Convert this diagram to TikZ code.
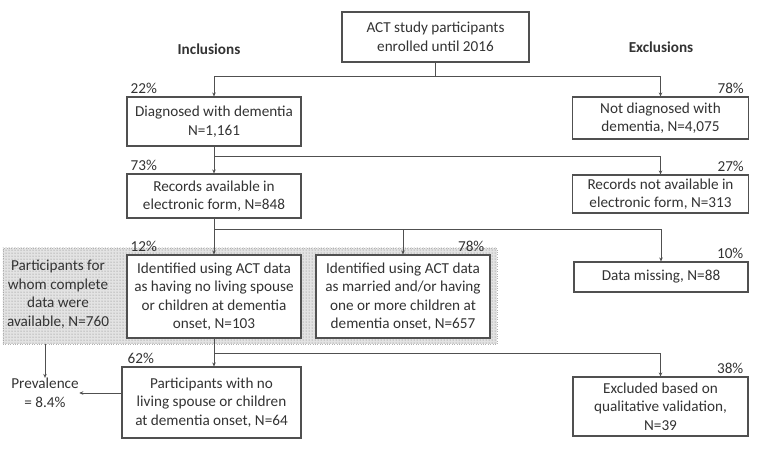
\documentclass[tikz,border=0pt]{standalone}
\usepackage{fontspec}
\setmainfont{Carlito}
\usetikzlibrary{arrows.meta,patterns}

\definecolor{ink}{HTML}{333333}
\definecolor{edge}{HTML}{505050}

\tikzset{
    box/.style={draw=edge, line width=1.1pt, fill=white, text=ink, align=center,
        inner sep=0pt, font=\fontsize{15.2}{18.5}\selectfont},
    pct/.style={text=ink, inner sep=0pt, font=\fontsize{15.2}{18}\selectfont},
    link/.style={draw=edge, line width=1pt},
    >={Stealth[length=4pt,width=3.5pt]}
}

\begin{document}
\begin{tikzpicture}[x=1pt, y=-1pt]
    % Page size (pixels of the reference)
    \useasboundingbox (0,0) rectangle (760,448);

    % Dotted background for the complete-data group
    \node[draw=gray!60, dotted, fill=gray!22, inner sep=0pt,
        minimum width=494pt, minimum height=96pt] (pool) at (250,296) {};
    \fill[pattern=dots, pattern color=gray!95!black] (pool.north west) rectangle (pool.south east);

    % Column headings
    \node[pct, font=\fontsize{15.2}{18}\selectfont\bfseries] (inc) at (209,49) {Inclusions};
    \node[pct, font=\fontsize{15.2}{18}\selectfont\bfseries] (exc) at (661,47) {Exclusions};

    % Boxes
    \node[box, minimum width=187pt, minimum height=50pt] (top) at (435.5,37)
        {ACT study participants\\enrolled until 2016};
    \node[box, minimum width=174pt, minimum height=49pt] (diag) at (214,121.5)
        {Diagnosed with dementia\\N=1,161};
    \node[box, minimum width=176pt, minimum height=42pt] (nodiag) at (660.5,118)
        {Not diagnosed with\\dementia, N=4,075};
    \node[box, minimum width=174pt, minimum height=44pt] (rec) at (214,196)
        {Records available in\\electronic form, N=848};
    \node[box, minimum width=176pt, minimum height=38pt] (norec) at (660.5,194)
        {Records not available in\\electronic form, N=313};
    \node[box, minimum width=174pt, minimum height=83pt] (alone) at (214,296.5)
        {Identified using ACT data\\as having no living spouse\\or children at dementia\\onset, N=103};
    \node[box, minimum width=174pt, minimum height=83pt] (family) at (403,296.5)
        {Identified using ACT data\\as married and/or having\\one or more children at\\dementia onset, N=657};
    \node[box, minimum width=174pt, minimum height=30pt] (missing) at (661,277)
        {Data missing, N=88};
    \node[box, minimum width=179pt, minimum height=71pt] (final) at (211.5,402.5)
        {Participants with no\\living spouse or children\\at dementia onset, N=64};
    \node[box, minimum width=175pt, minimum height=59pt] (valid) at (660.5,406.5)
        {Excluded based on\\qualitative validation,\\N=39};

    % Free texts
    \node[box, draw=none, fill=none] (complete) at (58,294)
        {Participants for\\whom complete\\data were\\available, N=760};
    \node[box, draw=none, fill=none] (prev) at (45,393) {Prevalence\\= 8.4\%};

    % Percentages
    \node[pct, above right, xshift=4pt, yshift=3pt] (p22) at (diag.north west) {22\%};
    \node[pct, above left, xshift=-5pt, yshift=3pt] (p78) at (nodiag.north east) {78\%};
    \node[pct, above right, xshift=4pt, yshift=3pt] (p73) at (rec.north west) {73\%};
    \node[pct, above left, xshift=-5pt, yshift=3pt] (p27) at (norec.north east) {27\%};
    \node[pct, above right, xshift=4pt, yshift=3pt] (p12) at (alone.north west) {12\%};
    \node[pct, above left, xshift=-6pt, yshift=3pt] (p78b) at (family.north east) {78\%};
    \node[pct, above left, xshift=-5pt, yshift=3pt] (p10) at (missing.north east) {10\%};
    \node[pct, above right, xshift=6pt, yshift=3pt] (p62) at (final.north west) {62\%};
    \node[pct, above left, xshift=-5pt, yshift=3pt] (p38) at (valid.north east) {38\%};

    % Split points
    \coordinate (s1) at (435.5,76);
    \coordinate (s2) at (214,156);
    \coordinate (s3) at (214,229);
    \coordinate (s4) at (214,353);

    % Connectors
    \draw[link] (top.south) -- (s1);
    \draw[link,->] (s1) -| (diag.north);
    \draw[link,->] (s1) -| (nodiag.north);

    \draw[link] (diag.south) -- (s2);
    \draw[link,->] (s2) -- (rec.north);
    \draw[link,->] (s2) -| (norec.north);

    \draw[link] (rec.south) -- (s3);
    \draw[link,->] (s3) -- (alone.north);
    \draw[link,->] (s3) -| (family.north);
    \draw[link,->] (s3) -| (missing.north);

    \draw[link] (alone.south) -- (s4);
    \draw[link,->] (s4) -- (s4 |- final.north);
    \draw[link,->] (s4) -| (valid.north);

    \draw[link,->] (pool.south -| prev.north) -- (prev.north);
    \draw[link,->] (final.west |- prev.east) -- (prev.east);

\end{tikzpicture}
\end{document}
